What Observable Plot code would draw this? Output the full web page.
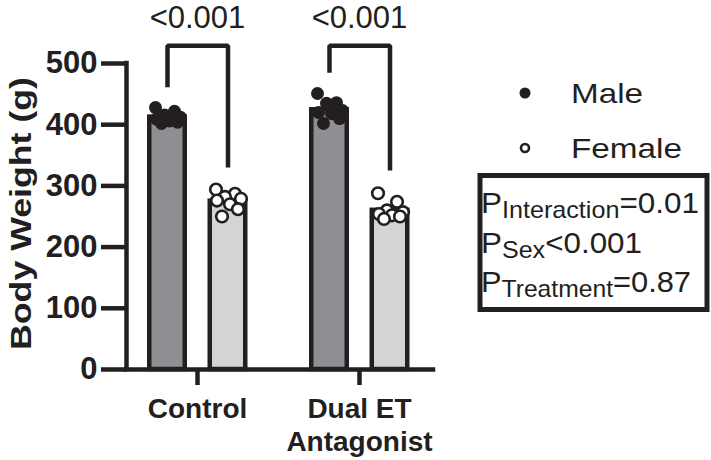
<!DOCTYPE html>
<html><head><meta charset="utf-8">
<script src="https://cdn.jsdelivr.net/npm/d3@7"></script>
<script src="https://cdn.jsdelivr.net/npm/@observablehq/plot@0.6"></script>
<style>
html,body{margin:0;padding:0;background:#fff;}
#chart svg{display:block;}
</style></head><body><div id="chart"></div>
<script>
// ---- data ----
const groups = ["Control", "Dual ET Antagonist"];
const groupLabels = ["Control", "Dual ET\nAntagonist"];
const sexes = ["Male", "Female"];
const controlMale = [428, 422, 416, 412, 409, 406, 404, 402];
const controlFemale = [294, 287, 282, 279, 276, 270, 262, 250];
const dualMale = [451, 436, 435, 423, 420, 418, 410, 402];
const dualFemale = [288, 274, 260, 257, 254, 252, 250, 246];
const pLabels = ["<0.001", "<0.001"];
const bracketTop = [529, 529];
const bracketLeftEnd = [461, 485];
const bracketRightEnd = [330, 325];
const yTicks = [0, 100, 200, 300, 400, 500];
const statNames = ["Interaction", "Sex", "Treatment"];
const statValues = ["=0.01", "<0.001", "=0.87"];

// ---- styling / layout constants ----
const INK = "#231f20";
const FONT = "'Liberation Sans', Arial, Helvetica, sans-serif";
const FILL = {Male: "#8e8f92", Female: "#d3d4d6"};
const STEP = 162;                       // px between group centres
const OFF = {Male: -30 / STEP, Female: 30.5 / STEP};
const HALF = 17.75 / STEP;
const JIT = [-12, 7, -3, 13, -11, 2, 10, -6].map(v => v / STEP);

const series = [
  [0, "Male", controlMale], [0, "Female", controlFemale],
  [1, "Male", dualMale], [1, "Female", dualFemale]
];
const rows = [];
series.forEach(([gi, sex, vals]) => vals.forEach((w, k) => rows.push({gi, sex, weight: w, k})));
const bars = series.map(([gi, sex, vals]) => ({gi, sex, mean: d3.mean(vals)}));
const brackets = [];
groups.forEach((g, gi) => {
  brackets.push({gi, x: gi + OFF.Male, y: bracketLeftEnd[gi]});
  brackets.push({gi, x: gi + OFF.Male, y: bracketTop[gi]});
  brackets.push({gi, x: gi + OFF.Female, y: bracketTop[gi]});
  brackets.push({gi, x: gi + OFF.Female, y: bracketRightEnd[gi]});
});
const pRows = groups.map((g, gi) => ({gi, y: bracketTop[gi], label: pLabels[gi]}));

const chart = Plot.plot({
  width: 711, height: 460,
  marginLeft: 126, marginRight: 278, marginTop: 63, marginBottom: 91,
  style: {fontFamily: FONT, color: INK, background: "white", overflow: "visible"},
  x: {type: "linear", domain: [-71 / STEP, 1 + 74 / STEP]},
  y: {domain: [0, 500]},
  marks: [
    Plot.rectY(bars, {
      x1: d => d.gi + OFF[d.sex] - HALF, x2: d => d.gi + OFF[d.sex] + HALF,
      y: "mean", fill: d => FILL[d.sex], stroke: INK, strokeWidth: 4.5
    }),
    Plot.dot(rows.filter(d => d.sex === "Male"), {
      x: d => d.gi + OFF.Male + JIT[d.k], y: "weight", r: 6.5, fill: INK, stroke: "none"
    }),
    Plot.dot(rows.filter(d => d.sex === "Female"), {
      x: d => d.gi + OFF.Female + JIT[d.k], y: "weight", r: 5.8, fill: "white", stroke: INK, strokeWidth: 2.6
    }),
    Plot.line(brackets, {x: "x", y: "y", z: "gi", stroke: INK, strokeWidth: 4.5, strokeLinejoin: "miter", strokeLinecap: "butt"}),
    Plot.text(pRows, {x: "gi", y: "y", text: "label", dy: -28, lineAnchor: "middle", fontSize: 31, fill: INK}),
    Plot.ruleY([0], {stroke: INK, strokeWidth: 4.5, strokeLinecap: "square"}),
    Plot.ruleX([-71 / STEP], {y1: 0, y2: 500, stroke: INK, strokeWidth: 4.5, strokeLinecap: "square"}),
    Plot.axisY(yTicks, {tickSize: 25, tickPadding: 4, fontSize: 31, fontWeight: "bold", strokeWidth: 4.5, label: null, tickFormat: d => String(d)}),
    Plot.axisX([0, 1], {tickSize: 16, tickPadding: 9, fontSize: 28, fontWeight: "bold", lineHeight: 1.18, strokeWidth: 4.5, label: null, tickFormat: i => groupLabels[i]})
  ]
});
document.getElementById("chart").appendChild(chart);

const svg = d3.select(chart);
// y-axis title
svg.append("text")
  .attr("transform", "translate(31,213.5) rotate(-90)")
  .attr("text-anchor", "middle")
  .attr("font-family", FONT).attr("font-size", 30).attr("font-weight", "bold").attr("fill", INK)
  .attr("textLength", 273).attr("lengthAdjust", "spacingAndGlyphs")
  .text("Body Weight (g)");

// legend
const leg = svg.append("g").attr("font-family", FONT).attr("fill", INK).attr("text-anchor", "start");
leg.append("circle").attr("cx", 525).attr("cy", 93).attr("r", 5.5).attr("fill", INK);
leg.append("text").attr("x", 571).attr("y", 103).attr("font-size", 28).attr("text-anchor", "start")
  .attr("textLength", 72).attr("lengthAdjust", "spacingAndGlyphs").text(sexes[0]);
leg.append("circle").attr("cx", 525).attr("cy", 148).attr("r", 4).attr("fill", "white").attr("stroke", INK).attr("stroke-width", 2.6);
leg.append("text").attr("x", 571).attr("y", 158).attr("font-size", 28).attr("text-anchor", "start")
  .attr("textLength", 111).attr("lengthAdjust", "spacingAndGlyphs").text(sexes[1]);

// statistics box
const box = svg.append("g").attr("font-family", FONT).attr("fill", INK).attr("text-anchor", "start");
box.append("rect").attr("x", 480).attr("y", 175.5).attr("width", 227).attr("height", 134)
  .attr("fill", "none").attr("stroke", INK).attr("stroke-width", 5);
const lineY = [213, 253, 292], lineLen = [218, 161, 210];
statNames.forEach((name, i) => {
  const t = box.append("text").attr("x", 481).attr("y", lineY[i]).attr("font-size", 30).attr("text-anchor", "start")
    .attr("textLength", lineLen[i]).attr("lengthAdjust", "spacingAndGlyphs");
  t.append("tspan").text("P");
  t.append("tspan").attr("font-size", 24).attr("dy", 5).text(name);
  t.append("tspan").attr("dy", -5).text(statValues[i]);
});
</script>
</body></html>
